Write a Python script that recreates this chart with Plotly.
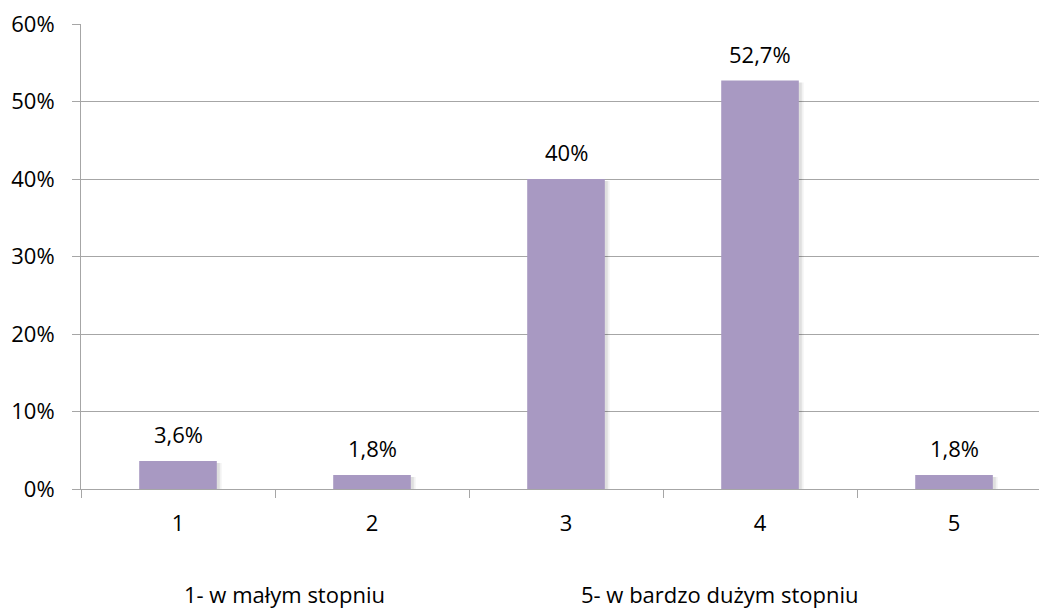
import plotly.graph_objects as go

# Survey answers on a 1-5 scale and share of responses
categories = ["1", "2", "3", "4", "5"]
shares = [3.6, 1.8, 40.0, 52.7, 1.8]
share_labels = ["3,6%", "1,8%", "40%", "52,7%", "1,8%"]
y_ticks = [0, 10, 20, 30, 40, 50, 60]
y_tick_labels = ["0%", "10%", "20%", "30%", "40%", "50%", "60%"]
scale_notes = ["1- w małym stopniu", "5- w bardzo dużym stopniu"]

FONT = "Open Sans"
BAR_COLOR = "#A899C2"
GRID = "#A6A6A6"
BAR_W = 0.40

fig = go.Figure()

# soft drop shadow under each bar
for dx, alpha in [(0.020, 0.05), (0.012, 0.08)]:
    fig.add_trace(go.Bar(
        x=categories, y=[v + 0.25 for v in shares], base=-0.5,
        width=BAR_W + dx, offset=-BAR_W / 2 + dx / 4,
        marker=dict(color=f"rgba(0,0,0,{alpha})", line=dict(width=0)),
        hoverinfo="skip", showlegend=False,
    ))

fig.add_trace(go.Bar(
    x=categories, y=shares, width=BAR_W,
    marker=dict(color=BAR_COLOR, line=dict(width=0)),
    showlegend=False,
))

# value labels above the bars (x given as category index)
for idx, (val, lab) in enumerate(zip(shares, share_labels)):
    fig.add_annotation(
        x=idx, y=val, text=lab, showarrow=False,
        yanchor="bottom", yshift=10,
        font=dict(family=FONT, size=22, color="#000000"),
    )

# scale description under the axis
for xp, note in zip([0.212, 0.667], scale_notes):
    fig.add_annotation(
        x=xp, y=-0.226, xref="paper", yref="paper", text=note,
        showarrow=False, xanchor="center", yanchor="middle",
        font=dict(family=FONT, size=22, color="#000000"),
    )

fig.update_layout(
    width=1039, height=609,
    margin=dict(l=81, r=0, t=24, b=120),
    paper_bgcolor="white", plot_bgcolor="white",
    barmode="overlay",
    font=dict(family=FONT, size=22, color="#000000"),
)
fig.update_xaxes(
    type="category", range=[-0.5, 4.438],
    tickson="boundaries", ticks="outside", ticklen=8,
    tickcolor=GRID, tickwidth=1,
    showline=True, linecolor=GRID, linewidth=1,
    showgrid=False, zeroline=False,
    ticklabelstandoff=15,
)
fig.update_yaxes(
    range=[0, 60], tickvals=y_ticks, ticktext=y_tick_labels,
    ticks="outside", ticklen=8, tickcolor=GRID, tickwidth=1,
    showline=True, linecolor=GRID, linewidth=1,
    showgrid=True, gridcolor=GRID, gridwidth=1,
    zeroline=False, ticklabelstandoff=13,
)

fig.write_html("out.html")
